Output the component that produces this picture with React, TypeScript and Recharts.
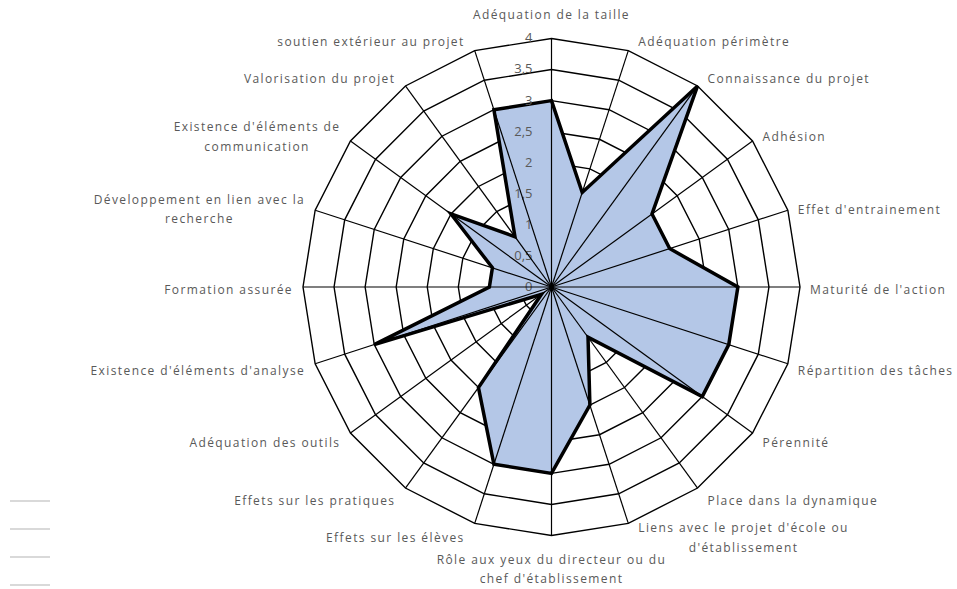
import React from 'react';
import {
    RadarChart,
    Radar,
    PolarGrid,
    PolarAngleAxis,
    PolarRadiusAxis,
    Legend
} from 'recharts';

// categories, clockwise from the top ("\n" = line break in the label)
const categories = [
    'Adéquation de la taille',
    'Adéquation périmètre',
    'Connaissance du projet',
    'Adhésion',
    "Effet d'entrainement",
    "Maturité de l'action",
    'Répartition des tâches',
    'Pérennité',
    'Place dans la dynamique',
    "Liens avec le projet d'école ou\nd'établissement",
    "Rôle aux yeux du directeur ou du\nchef d'établissement",
    'Effets sur les élèves',
    'Effets sur les pratiques',
    'Adéquation des outils',
    "Existence d'éléments d'analyse",
    'Formation assurée',
    'Développement en lien avec la\nrecherche',
    "Existence d'éléments de\ncommunication",
    'Valorisation du projet',
    'soutien extérieur au projet'
];

const scores = [3, 1.6, 4, 2, 2, 3, 3, 3, 1, 2, 3, 3, 2, 0.2, 3, 1, 1, 2, 1, 3];

const radiusTicks = [0, 0.5, 1, 1.5, 2, 2.5, 3, 3.5, 4];

// empty legend entries (grey strokes, bottom left)
const legendEntries = ['', '', '', ''];

const data = categories.map((name, i) => ({ name, score: scores[i] }));

const W = 957;
const H = 589;
const CX = 551.5;
const CY = 287;
const R = 248.5;

const FONT = '"Open Sans", sans-serif';
const FONT_SIZE = 12;
const LETTER = 1.4;
const TEXT_COLOR = '#595959';

let measureCtx: CanvasRenderingContext2D | null = null;
const textWidth = (s: string) => {
    if (!measureCtx) {
        measureCtx = document.createElement('canvas').getContext('2d');
    }
    if (!measureCtx) return s.length * 7;
    measureCtx.font = `${FONT_SIZE}px ${FONT}`;
    return measureCtx.measureText(s).width + LETTER * s.length;
};

const AngleTick = (props: any) => {
    const index: number = props.index ?? props.payload?.index ?? 0;
    const label: string = String(props.payload?.value ?? '');
    const lines = label.split('\n');
    const a = (index * 2 * Math.PI) / categories.length;
    const s = Math.sin(a);
    const c = Math.cos(a);
    const vx = CX + R * s;
    const vy = CY - R * c;
    const lh = 19.5;

    let anchor: 'start' | 'end' | 'middle' = 'middle';
    let x0 = vx;
    let centerY = vy - c * 12 + 3;
    if (Math.abs(s) < 0.1) {
        anchor = 'middle';
        centerY = c > 0 ? vy - 24 : vy + 24 + ((lines.length - 1) * lh) / 2;
    } else if (s > 0) {
        anchor = 'start';
        x0 = vx + 10;
    } else {
        anchor = 'end';
        x0 = vx - 10;
    }

    const widths = lines.map(textWidth);
    const blockW = Math.max(...widths);

    return (
        <g>
            {lines.map((line, i) => {
                let x = x0;
                if (anchor === 'start') x = x0 + (blockW - widths[i]) / 2;
                if (anchor === 'end') x = x0 - (blockW - widths[i]) / 2;
                const y = centerY + (i - (lines.length - 1) / 2) * lh;
                return (
                    <text
                        key={i}
                        x={x}
                        y={y}
                        dy="0.35em"
                        textAnchor={anchor}
                        fill={TEXT_COLOR}
                        fontSize={FONT_SIZE}
                        fontFamily={FONT}
                        letterSpacing={LETTER}
                    >
                        {line}
                    </text>
                );
            })}
        </g>
    );
};

const RadiusTick = (props: any) => {
    const { x, y, payload } = props;
    return (
        <text
            x={x - 19}
            y={y}
            dy="0.3em"
            textAnchor="end"
            fill={TEXT_COLOR}
            fontSize={FONT_SIZE + 1}
            fontFamily={FONT}
        >
            {String(payload.value).replace('.', ',')}
        </text>
    );
};

const LegendLines = () => (
    <div>
        {legendEntries.map((_, i) => (
            <div
                key={i}
                style={{
                    width: 40,
                    height: 2,
                    background: '#d9d9d9',
                    marginBottom: 26
                }}
            />
        ))}
    </div>
);

export default function App() {
    return (
        <div style={{ width: W, height: H, background: '#fff' }}>
            <style>{'body{margin:0}'}</style>
            <RadarChart
                width={W}
                height={H}
                data={data}
                cx={CX}
                cy={CY}
                outerRadius={R}
                margin={{ top: 0, right: 0, bottom: 0, left: 0 }}
            >
                {/* rings under the fill */}
                <PolarGrid gridType="polygon" stroke="#000" strokeWidth={1.4} strokeOpacity={1} radialLines={false} />
                <PolarAngleAxis
                    dataKey="name"
                    tick={<AngleTick />}
                    tickLine={false}
                    axisLine={false}
                />
                <PolarRadiusAxis
                    angle={90}
                    domain={[0, 4]}
                    ticks={radiusTicks as any}
                    tick={<RadiusTick />}
                    axisLine={false}
                    tickLine={false}
                />
                <Radar
                    dataKey="score"
                    stroke="#000"
                    strokeWidth={3.5}
                    fill="#b4c7e7"
                    fillOpacity={1}
                    dot={false}
                    isAnimationActive={false}
                />
                {/* spokes drawn over the fill */}
                <PolarGrid
                    gridType="polygon"
                    stroke="#000"
                    strokeWidth={1.2}
                    strokeOpacity={1}
                    polarRadius={[0.01]}
                    zIndex={650}
                />
                <Legend
                    content={<LegendLines />}
                    wrapperStyle={{ position: 'absolute', left: 10, top: 500, bottom: 'auto', width: 40 }}
                />
            </RadarChart>
        </div>
    );
}
